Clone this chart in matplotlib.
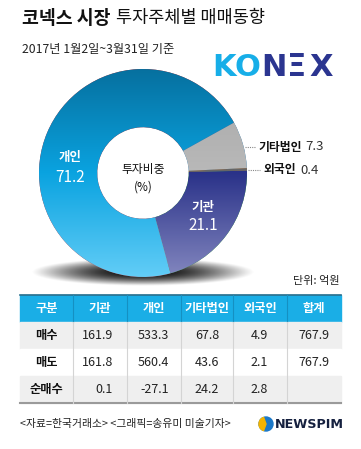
import numpy as np
import matplotlib
matplotlib.use("Agg")
import matplotlib.pyplot as plt
from matplotlib.colors import LinearSegmentedColormap
from matplotlib.patches import Rectangle, Circle, Wedge

plt.rcParams['font.family'] = ['Noto Sans CJK KR', 'DejaVu Sans']

# data
share_labels = ["기타법인", "외국인", "기관", "개인"]
share_values = [7.3, 0.4, 21.1, 71.2]

columns = ["구분", "기관", "개인", "기타법인", "외국인", "합계"]
row_names = ["매수", "매도", "순매수"]
buy = ["161.9", "533.3", "67.8", "4.9", "767.9"]
sell = ["161.8", "560.4", "43.6", "2.1", "767.9"]
net = ["0.1", "-27.1", "24.2", "2.8", ""]
table_rows = [buy, sell, net]

W, H = 361, 449
fig = plt.figure(figsize=(W / 100, H / 100), dpi=100)
bg = fig.add_axes([0, 0, 1, 1])
bg.set_xlim(0, W)
bg.set_ylim(H, 0)
bg.axis("off")

# title
bg.text(22, 18, "코넥스 시장", fontsize=13.2, fontweight="bold", va="center", color="#111111")
bg.text(116, 18, "투자주체별 매매동향", fontsize=12.6, va="center", color="#111111")
bg.text(22, 50, "2017년 1월2일~3월31일 기준", fontsize=8.8, va="center", color="#222222")

# KONEX logo
for ch, x, c in zip("KONΞX", [224, 247.5, 274, 297, 321],
                    ["#17aee8", "#17aee8", "#2b3590", "#2b3590", "#2b3590"]):
    bg.text(x, 67, ch, fontsize=22, color=c, va="center", ha="center",
            family="DejaVu Sans", fontweight="bold")

# shadow under donut
sx = np.linspace(20, 270, 300)
sy = np.linspace(245, 295, 80)
X, Y = np.meshgrid(sx, sy)
d = ((X - 143) / 112) ** 2 + ((Y - 272) / 14) ** 2
alpha = np.clip(1 - d, 0, 1) ** 1.2 * 0.95
rgba = np.zeros(alpha.shape + (4,))
rgba[..., 3] = alpha
bg.imshow(rgba, extent=(20, 270, 295, 245), aspect="auto", zorder=1, interpolation="bilinear")

# donut
cx, cy, r = 143, 173, 104
ax = fig.add_axes([(cx - r) / W, 1 - (cy + r) / H, 2 * r / W, 2 * r / H])
ax.set_zorder(2)
wedges, _ = ax.pie(share_values, startangle=29, counterclock=False, radius=1,
                   wedgeprops=dict(width=0.56, linewidth=0))
ax.set_xlim(-1, 1)
ax.set_ylim(-1, 1)
ax.set_aspect("equal")
ax.axis("off")

grads = {
    "개인": ["#06709f", "#0aa3e0", "#62cdf7"],
    "기관": ["#2a3289", "#2a3289", "#8387bf"],
    "기타법인": ["#a6a6a6", "#b9b9b9", "#a6a6a6"],
    "외국인": ["#666666", "#666666", "#666666"],
}
g = np.linspace(0, 1, 256).reshape(-1, 1)
for w, lab in zip(wedges, share_labels):
    cmap = LinearSegmentedColormap.from_list(lab, grads[lab])
    im = ax.imshow(g, cmap=cmap, extent=(-1, 1, -1, 1), origin="upper", aspect="auto", zorder=3)
    im.set_clip_path(w)

# overlay for labels on top of donut
top = fig.add_axes([0, 0, 1, 1])
top.set_zorder(3)
top.patch.set_alpha(0)
top.set_xlim(0, W)
top.set_ylim(H, 0)
top.axis("off")

top.text(70, 158, share_labels[3], fontsize=9, fontweight="bold", color="white", ha="center", va="center")
top.text(70, 177, f"{share_values[3]}", fontsize=11, color="white", ha="center", va="center")
top.text(203, 207, share_labels[2], fontsize=9, fontweight="bold", color="white", ha="center", va="center")
top.text(203, 225, f"{share_values[2]}", fontsize=11, color="white", ha="center", va="center")
top.text(143, 170, "투자비중", fontsize=8.5, color="#111111", ha="center", va="center")
top.text(143, 187, "(%)", fontsize=8.5, color="#111111", ha="center", va="center")

top.plot([245, 256], [147, 147], ls=(0, (1, 1)), color="#888888", lw=0.8)
top.text(258, 147, share_labels[0], fontsize=8.5, fontweight="bold", color="#111111", va="center")
top.text(305, 147, f"{share_values[0]}", fontsize=9.5, color="#333333", va="center")
top.plot([248, 260], [170, 170], ls=(0, (1, 1)), color="#888888", lw=0.8)
top.text(263, 170, share_labels[1], fontsize=8.5, fontweight="bold", color="#111111", va="center")
top.text(300, 170, f"{share_values[1]}", fontsize=9.5, color="#333333", va="center")

top.text(340, 281, "단위: 억원", fontsize=8, color="#222222", ha="right", va="center")

# table
xs = [20, 73, 127, 181, 233, 287, 341]
ys = [295, 322, 349, 376, 403]
right_x = [113, 169, 219, 268, 329]
top.add_patch(Rectangle((xs[0], ys[0]), xs[-1] - xs[0], ys[1] - ys[0], color="#1aaee6", zorder=3))
for i, fillc in enumerate(["#efefef", "white", "#efefef"]):
    top.add_patch(Rectangle((xs[0], ys[i + 1]), xs[-1] - xs[0], 27, color=fillc, zorder=3))
top.plot([xs[0], xs[-1]], [ys[0], ys[0]], color="#2b6f8c", lw=1.2, zorder=4)
top.plot([xs[0], xs[-1]], [ys[-1], ys[-1]], color="#9a9a9a", lw=1.5, zorder=4)
for x in xs[1:-1]:
    top.plot([x, x], [ys[0], ys[1]], color="#1590c2", lw=0.8, zorder=4)
    top.plot([x, x], [ys[1], ys[-1]], color="#d4d4d4", lw=0.8, zorder=4)
for j, col in enumerate(columns):
    top.text((xs[j] + xs[j + 1]) / 2, (ys[0] + ys[1]) / 2, col, fontsize=8.8, fontweight="bold",
             color="white", ha="center", va="center", zorder=5)
for i, (name, vals) in enumerate(zip(row_names, table_rows)):
    yc = (ys[i + 1] + ys[i + 2]) / 2
    top.text((xs[0] + xs[1]) / 2, yc, name, fontsize=8.8, fontweight="bold", color="#111111",
             ha="center", va="center", zorder=5)
    for j, v in enumerate(vals):
        top.text(right_x[j], yc, v, fontsize=9, color="#222222", ha="right", va="center", zorder=5)

# footer
top.text(20, 424, "<자료=한국거래소> <그래픽=송유미 미술기자>", fontsize=7.8, color="#222222", va="center")
top.add_patch(Circle((266, 424), 7, color="#1b78c8", zorder=5))
top.add_patch(Wedge((266, 424), 7, 110, 250, color="#f5b400", zorder=6))
top.text(275, 424, "NEWSPIM", fontsize=9.2, fontweight="bold", color="#15203f", va="center",
         family="DejaVu Sans")

fig.savefig("out.png", dpi=100)
